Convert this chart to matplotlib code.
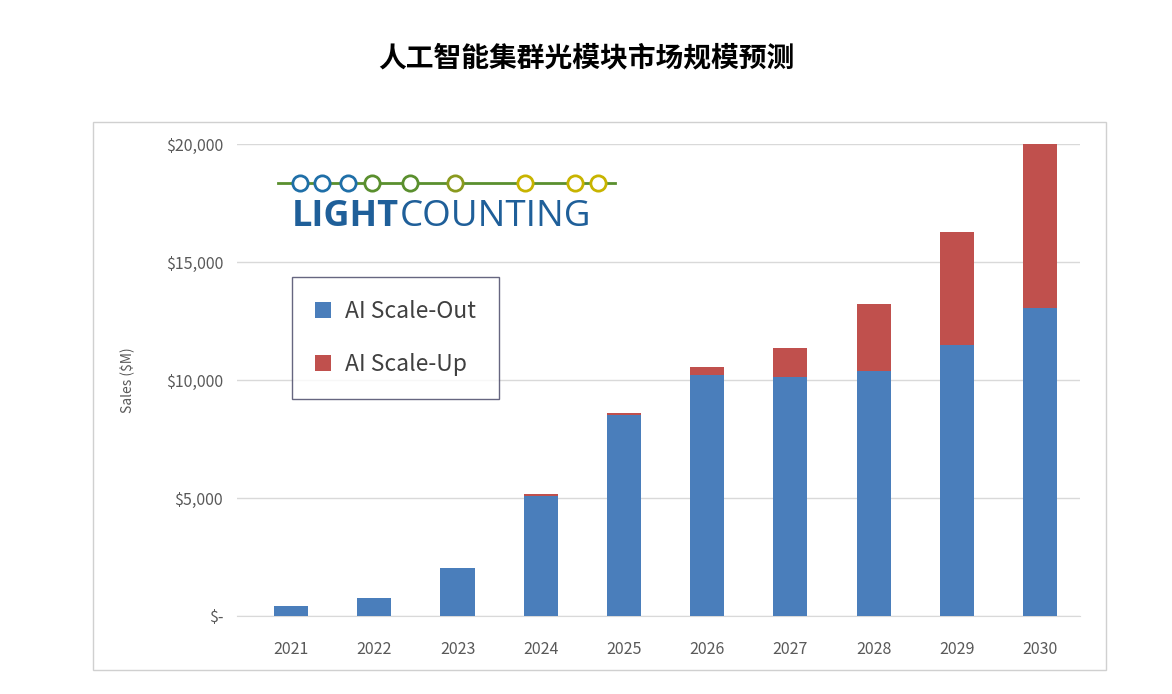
import matplotlib
matplotlib.use("Agg")
import matplotlib.pyplot as plt
from matplotlib.patches import Rectangle

plt.rcParams['font.family'] = ['Noto Sans CJK SC', 'DejaVu Sans']

years = ["2021", "2022", "2023", "2024", "2025", "2026", "2027", "2028", "2029", "2030"]
scale_out = [420, 760, 2030, 5085, 8520, 10210, 10130, 10380, 11480, 13050]
scale_up = [0, 0, 0, 85, 80, 340, 1230, 2840, 4790, 6990]
yticks = [0, 5000, 10000, 15000, 20000]
ytick_labels = ["$-", "$5,000", "$10,000", "$15,000", "$20,000"]

blue = "#4a7ebb"
red = "#c0504d"

fig = plt.figure(figsize=(11.72, 6.94), dpi=100)
fig.patches.append(Rectangle((93/1172, 1-670/694), 1013/1172, 548/694,
                             transform=fig.transFigure, fill=False, ec="#d0d0d0", lw=1))
fig.text(0.5, 1-58/694, "人工智能集群光模块市场规模预测", ha="center", va="center",
         fontsize=20, fontweight="bold", color="black")

ax = fig.add_axes([237/1172, 1-616/694, 843/1172, 472/694])
x = list(range(len(years)))
ax.bar(x, scale_out, width=0.41, color=blue, label="AI Scale-Out", zorder=3)
ax.bar(x, scale_up, width=0.41, bottom=scale_out, color=red, label="AI Scale-Up", zorder=3)
ax.set_xlim(-0.65, 9.48)
ax.set_ylim(0, 20000)
ax.set_yticks(yticks)
ax.set_yticklabels(ytick_labels)
ax.set_xticks(x)
ax.set_xticklabels(years)
ax.tick_params(colors="#595959", labelsize=11.5, length=0, pad=10)
ax.tick_params(axis="x", pad=18)
ax.yaxis.grid(True, color="#d9d9d9", lw=1, zorder=0)
for s in ["top", "right", "left"]:
    ax.spines[s].set_visible(False)
ax.spines["bottom"].set_color("#d9d9d9")
ax.set_ylabel("Sales ($M)", color="#595959", fontsize=10, labelpad=22)

# logo
lx = [283, 300, 322, 348, 372, 410, 455, 525, 575, 598]
lcol = ["#1f6fa8"] * 4 + ["#5a8f2e"] * 2 + ["#8a9a1e"] + ["#c8b400"] * 3
fig.lines.append(plt.Line2D([278/1172, 615/1172], [1-183/694]*2, transform=fig.transFigure,
                            color="#5a8f2e", lw=2))
for px, c in zip(lx[1:], lcol[1:]):
    fig.lines.append(plt.Line2D([px/1172], [1-183/694], transform=fig.transFigure, marker="o",
                                ms=11, mfc="white", mec=c, mew=2, ls="none"))
fig.text(292/1172, 1-217/694, "LIGHT", color="#1f5f99", fontsize=26, fontweight="bold",
         va="center", ha="left", family="Open Sans")
fig.text(400/1172, 1-217/694, "COUNTING", color="#1f5f99", fontsize=26.5,
         va="center", ha="left", family="Open Sans")

leg = ax.legend(loc="upper left", bbox_to_anchor=((292-237)/843, (616-277)/472),
                fontsize=16.5, frameon=True, fancybox=False, edgecolor="#404060",
                handlelength=0.7, handleheight=0.7, labelspacing=1.3, borderpad=1.0,
                handletextpad=0.6, borderaxespad=0, labelcolor="#404040")
leg.get_frame().set_linewidth(1)

fig.savefig("out.png", dpi=100)
